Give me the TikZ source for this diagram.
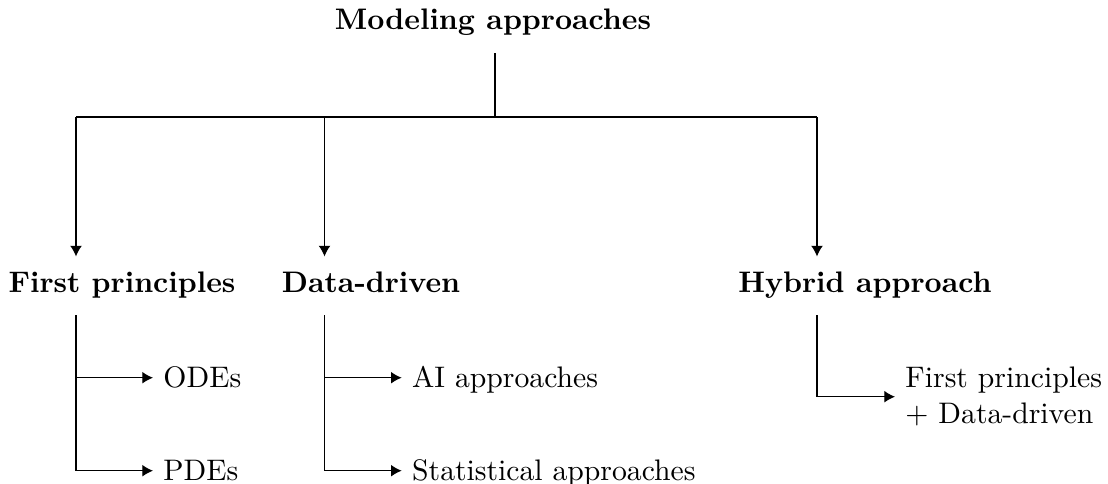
\documentclass[tikz,border=0pt]{standalone}
\usetikzlibrary{arrows.meta}
\begin{document}
\begin{tikzpicture}[x=0.3367pt, y=-0.3367pt,
  head/.style={font=\bfseries, text height=6.94pt, text depth=1.94pt, inner sep=3.33pt},
  leaf/.style={anchor=west, text height=6.83pt, text depth=0pt, inner sep=3.33pt},
  multileaf/.style={anchor=west, align=left, inner sep=3.33pt},
  arr/.style={-{Latex[length=3.6pt,width=4pt]}},
  link/.style={line width=0.4pt}
]
\useasboundingbox (0,0) rectangle (1108,483);

% headings
\node[head, anchor=base] (title) at (493,29) {Modeling approaches};
\node[head, anchor=base] (fp) at (122,292) {First principles};
\node[head, anchor=base] (dd) at (371,292) {Data-driven};
\node[head, anchor=base] (hy) at (865,292) {Hybrid approach};

% leaves
\node[leaf] (ode) at (153,377.7) {ODEs};
\node[leaf] (pde) at (153,470.7) {PDEs};
\node[leaf] (ai) at (401.7,377.7) {AI approaches};
\node[leaf] (stat) at (401.7,470.7) {Statistical approaches};
\node[multileaf] (mix) at (895,396.7) {First principles\\$+$ Data-driven};

% trunk columns
\coordinate (hub) at (495,117);
\coordinate (fpx) at (76,117);
\coordinate (ddx) at (324.5,117);
\coordinate (hyx) at (817,117);

% top level
\draw[link, shorten <=2.7pt] (title.south -| hub) -- (hub);
\draw[link] (fpx) -- (hyx);
\draw[link, arr, shorten >=1.5pt] (fpx) -- (fpx |- fp.north);
\draw[link, arr, shorten >=1.5pt] (ddx) -- (ddx |- dd.north);
\draw[link, arr, shorten >=1.5pt] (hyx) -- (hyx |- hy.north);

% first principles branch
\draw[link, shorten <=2.4pt] (fpx |- fp.south) -- (fpx |- pde.west);
\draw[link, arr] (fpx |- ode.west) -- (ode.west);
\draw[link, arr] (fpx |- pde.west) -- (pde.west);

% data-driven branch
\draw[link, shorten <=2.4pt] (ddx |- dd.south) -- (ddx |- stat.west);
\draw[link, arr] (ddx |- ai.west) -- (ai.west);
\draw[link, arr] (ddx |- stat.west) -- (stat.west);

% hybrid branch
\draw[link, arr, shorten <=2.4pt] (hyx |- hy.south) |- (mix.west);
\end{tikzpicture}
\end{document}
